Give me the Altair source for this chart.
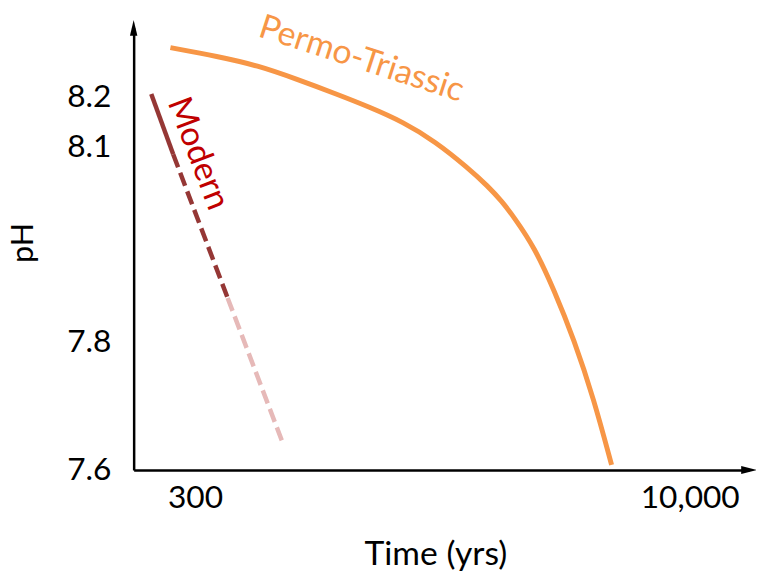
import altair as alt
import pandas as pd

# Permo-Triassic curve (time in years, pH)
pt_time = [252, 353, 467, 618, 818, 1031, 1309, 1649, 2078, 2391, 2638, 2890, 3325, 3826, 4403, 5064, 5747]
pt_ph = [8.300, 8.282, 8.264, 8.236, 8.206, 8.180, 8.150, 8.110, 8.067, 8.039, 8.016, 7.990,
         7.945, 7.879, 7.803, 7.711, 7.608]

# Modern: observed (solid), projected (dark dashed), extended projection (light dashed)
modern_obs_time = [220, 257]
modern_obs_ph = [8.206, 8.088]
modern_proj_time = [257, 378]
modern_proj_ph = [8.088, 7.867]
modern_ext_time = [378, 556]
modern_ext_ph = [7.867, 7.645]

# Annotations
label_text = ["Modern", "Permo-Triassic"]
label_time = [306, 975]
label_ph = [8.089, 8.276]
label_angle = [69, 18]
label_color = ["#C00000", "#F79646"]

x_ticks = [300, 10000]
y_ticks = [7.6, 7.8, 8.1, 8.2]
x_domain = [194.2, 15230]
y_domain = [7.6, 7.8, 8.1, 8.2, 8.34]

W, H = 622, 447
FONT = "Lato"

x_scale = alt.Scale(type="log", domain=x_domain, nice=False)
y_scale = alt.Scale(domain=y_domain, range=[H, 317, 120, 70, 0], zero=False, nice=False)

x_axis = alt.Axis(values=x_ticks, format=",", title="Time (yrs)", grid=False, ticks=False,
                  domainColor="black", domainWidth=2.5, labelFont=FONT, labelFontSize=32,
                  labelColor="black", labelPadding=13, labelFlush=False, labelOverlap=False,
                  titleFont=FONT, titleFontSize=34, titleFontWeight="normal", titleColor="black",
                  titleX=305, titleY=95, titleBaseline="alphabetic", titleAlign="center")
y_axis = alt.Axis(values=y_ticks, format=".1f", title="pH", grid=False, ticks=False,
                  domainColor="black", domainWidth=2.5, labelFont=FONT, labelFontSize=32,
                  labelColor="black", labelPadding=23, labelOverlap=False, labelFlush=False,
                  titleFont=FONT, titleFontSize=31, titleFontWeight="normal", titleColor="black",
                  titleAngle=270, titleX=-102, titleY=217, titleAlign="center",
                  titleBaseline="alphabetic")

def line(times, phs, color, width, dash=None, interp="linear"):
    df = pd.DataFrame({"time": times, "ph": phs})
    kw = dict(color=color, strokeWidth=width, interpolate=interp, strokeCap="butt")
    if dash:
        kw["strokeDash"] = dash
    return alt.Chart(df).mark_line(**kw).encode(
        x=alt.X("time:Q", scale=x_scale, axis=x_axis),
        y=alt.Y("ph:Q", scale=y_scale, axis=y_axis),
    )

pt = line(pt_time, pt_ph, "#F79646", 5, interp="basis")
m1 = line(modern_obs_time, modern_obs_ph, "#953735", 4.5)
m2 = line(modern_proj_time, modern_proj_ph, "#953735", 4.5, dash=[14, 6])
m3 = line(modern_ext_time, modern_ext_ph, "#E6B9B8", 4.5, dash=[14, 6])

labels_df = pd.DataFrame({"text": label_text, "time": label_time, "ph": label_ph,
                          "angle": label_angle, "color": label_color})
labels = alt.Chart(labels_df).mark_text(font=FONT, fontSize=34, align="center",
                                        baseline="middle").encode(
    x=alt.X("time:Q", scale=x_scale),
    y=alt.Y("ph:Q", scale=y_scale),
    text="text:N",
    angle=alt.Angle("angle:Q", scale=None),
    color=alt.Color("color:N", scale=None),
)

up_arrow = alt.Chart(pd.DataFrame({"time": [x_domain[0]], "ph": [y_domain[-1]]})).mark_point(
    shape="M0,-1L0.47,1L-0.47,1Z", size=256, filled=True, color="black", opacity=1
).encode(x=alt.X("time:Q", scale=x_scale), y=alt.Y("ph:Q", scale=y_scale))

right_arrow = alt.Chart(pd.DataFrame({"time": [x_domain[1]], "ph": [y_domain[0]]})).mark_point(
    shape="M1,0L-1,-0.5L-1,0.5Z", size=256, filled=True, color="black", opacity=1
).encode(x=alt.X("time:Q", scale=x_scale), y=alt.Y("ph:Q", scale=y_scale))

chart = alt.layer(pt, m1, m2, m3, labels, up_arrow, right_arrow).properties(
    width=W, height=H,
    background="white",
    autosize=alt.AutoSizeParams(type="none"),
    padding={"left": 127, "top": 17, "right": 7, "bottom": 100},
).configure_view(stroke=None)

chart.save("out.html", embed_options={"renderer": "svg", "actions": False})
